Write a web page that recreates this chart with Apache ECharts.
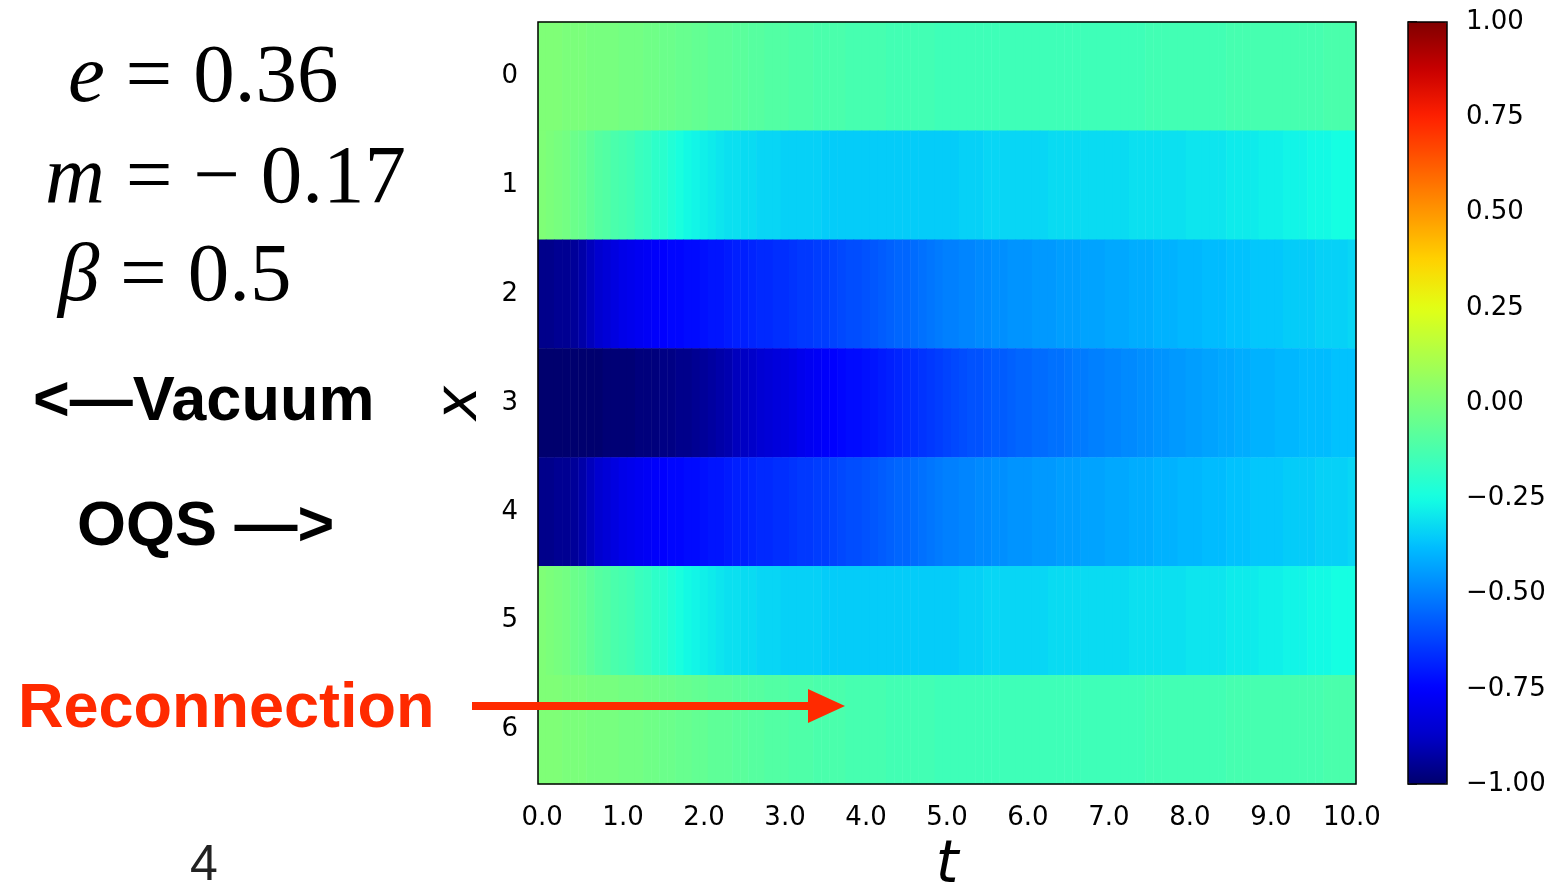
<!DOCTYPE html>
<html>
<head>
<meta charset="utf-8">
<script src="https://cdn.jsdelivr.net/npm/echarts@6/dist/echarts.min.js"></script>
<style>
  html, body { margin: 0; padding: 0; background: #fff; }
  #chart { width: 1567px; height: 887px; }
</style>
</head>
<body>
<div id="chart"></div>
<script>
// rows of the heatmap: lattice site x (top to bottom)
const xSites = ['0', '1', '2', '3', '4', '5', '6'];
// columns: t = 0.0 ... 10.0, step 0.1
const tSteps = Array.from({ length: 101 }, (_, i) => (i / 10).toFixed(1));
const colorbarTicks = [-1, -0.75, -0.5, -0.25, 0, 0.25, 0.5, 0.75, 1];

// values, one per t step (x=4..6 mirror x=2..0)
const row0 = [
  0.01, 0.01, 0.01, 0.00, 0.00, 0.00, -0.01, -0.01, -0.01, -0.01,
  -0.02, -0.02, -0.02, -0.03, -0.03, -0.04, -0.04, -0.05, -0.05, -0.06,
  -0.06, -0.07, -0.07, -0.07, -0.08, -0.08, -0.09, -0.09, -0.10, -0.10,
  -0.10, -0.11, -0.11, -0.11, -0.12, -0.12, -0.12, -0.12, -0.13, -0.13,
  -0.13, -0.13, -0.13, -0.14, -0.14, -0.14, -0.14, -0.14, -0.14, -0.15,
  -0.15, -0.15, -0.15, -0.15, -0.15, -0.15, -0.15, -0.15, -0.15, -0.15,
  -0.15, -0.15, -0.15, -0.15, -0.15, -0.15, -0.15, -0.15, -0.15, -0.15,
  -0.15, -0.15, -0.15, -0.15, -0.15, -0.14, -0.14, -0.14, -0.14, -0.14,
  -0.14, -0.14, -0.14, -0.14, -0.14, -0.13, -0.13, -0.13, -0.13, -0.13,
  -0.13, -0.13, -0.13, -0.13, -0.13, -0.13, -0.13, -0.12, -0.12, -0.12,
  -0.12
];
const row1 = [
  0.01, 0.00, -0.01, -0.02, -0.04, -0.05, -0.07, -0.09, -0.10, -0.12,
  -0.13, -0.14, -0.16, -0.17, -0.19, -0.20, -0.22, -0.24, -0.26, -0.27,
  -0.28, -0.29, -0.30, -0.31, -0.31, -0.32, -0.32, -0.33, -0.33, -0.33,
  -0.34, -0.34, -0.34, -0.34, -0.34, -0.35, -0.35, -0.35, -0.35, -0.35,
  -0.35, -0.35, -0.35, -0.35, -0.35, -0.35, -0.35, -0.35, -0.35, -0.35,
  -0.35, -0.35, -0.34, -0.34, -0.34, -0.33, -0.33, -0.33, -0.33, -0.33,
  -0.33, -0.33, -0.33, -0.32, -0.32, -0.32, -0.32, -0.32, -0.32, -0.32,
  -0.32, -0.32, -0.32, -0.31, -0.31, -0.31, -0.31, -0.31, -0.31, -0.31,
  -0.30, -0.30, -0.30, -0.30, -0.30, -0.29, -0.29, -0.29, -0.29, -0.28,
  -0.28, -0.28, -0.27, -0.27, -0.27, -0.26, -0.26, -0.26, -0.25, -0.25,
  -0.25
];
const row2 = [
  -0.96, -0.96, -0.95, -0.95, -0.94, -0.92, -0.89, -0.86, -0.84, -0.82,
  -0.80, -0.79, -0.78, -0.77, -0.76, -0.75, -0.74, -0.74, -0.73, -0.73,
  -0.72, -0.71, -0.71, -0.70, -0.69, -0.69, -0.68, -0.67, -0.67, -0.66,
  -0.66, -0.65, -0.64, -0.64, -0.63, -0.63, -0.62, -0.61, -0.60, -0.60,
  -0.59, -0.58, -0.57, -0.56, -0.55, -0.55, -0.54, -0.53, -0.52, -0.51,
  -0.50, -0.50, -0.49, -0.49, -0.48, -0.48, -0.47, -0.47, -0.46, -0.46,
  -0.46, -0.45, -0.45, -0.45, -0.44, -0.44, -0.44, -0.43, -0.43, -0.43,
  -0.42, -0.42, -0.42, -0.41, -0.41, -0.41, -0.40, -0.40, -0.40, -0.39,
  -0.39, -0.39, -0.38, -0.38, -0.38, -0.37, -0.37, -0.37, -0.36, -0.36,
  -0.36, -0.36, -0.35, -0.35, -0.35, -0.35, -0.34, -0.34, -0.34, -0.34,
  -0.33
];
const row3 = [
  -1.00, -1.00, -1.00, -1.00, -1.00, -1.00, -1.00, -1.00, -0.99, -0.99,
  -0.99, -0.99, -0.98, -0.98, -0.98, -0.97, -0.97, -0.96, -0.96, -0.95,
  -0.94, -0.93, -0.92, -0.91, -0.89, -0.88, -0.87, -0.85, -0.84, -0.83,
  -0.82, -0.81, -0.79, -0.78, -0.77, -0.76, -0.75, -0.74, -0.73, -0.73,
  -0.72, -0.71, -0.70, -0.69, -0.68, -0.67, -0.66, -0.65, -0.64, -0.63,
  -0.62, -0.61, -0.60, -0.59, -0.59, -0.58, -0.57, -0.57, -0.56, -0.55,
  -0.55, -0.54, -0.54, -0.53, -0.53, -0.52, -0.51, -0.51, -0.50, -0.50,
  -0.49, -0.49, -0.48, -0.48, -0.47, -0.47, -0.46, -0.46, -0.45, -0.45,
  -0.44, -0.44, -0.43, -0.43, -0.42, -0.42, -0.41, -0.41, -0.40, -0.40,
  -0.40, -0.39, -0.39, -0.39, -0.38, -0.38, -0.38, -0.38, -0.37, -0.37,
  -0.37
];
const rows = [row0, row1, row2, row3, row2, row1, row0];

// matplotlib 'jet', sampled at 17 even stops
const jet = [
  '#00006e', '#0000c8', '#0000ff', '#0040ff', '#0080ff', '#00bfff',
  '#15ffe2', '#48ffae', '#7bff7b', '#aeff48', '#e2ff15', '#ffd200',
  '#ff9700', '#ff5c00', '#ff2100', '#c80000', '#800000'
];

const heatData = [];
rows.forEach((vals, yi) => {
  vals.forEach((v, xi) => heatData.push([xi, yi, v]));
});

const tickFont = { fontFamily: 'DejaVu Sans', fontSize: 26, color: '#000' };
const everyTenth = (i) => i % 10 === 0;
const red = '#ff2a00';

const chart = echarts.init(document.getElementById('chart'));
chart.setOption({
  animation: false,
  grid: [
    { left: 538, top: 22, width: 818, height: 762, outerBoundsMode: 'none', show: true, borderColor: '#000', borderWidth: 1.5, z: 3 },
    { left: 1408, top: 22, width: 39, height: 762, outerBoundsMode: 'none', show: true, borderColor: '#000', borderWidth: 1.5, z: 6 }
  ],
  xAxis: [
    {
      type: 'category',
      gridIndex: 0,
      data: tSteps,
      axisLine: { show: false },
      axisTick: { alignWithLabel: true, interval: everyTenth, length: 8, lineStyle: { color: '#000', width: 1.5 } },
      axisLabel: Object.assign({ interval: everyTenth, margin: 21 }, tickFont),
      splitLine: { show: false },
      name: 't',
      nameLocation: 'middle',
      nameGap: 54,
      nameTextStyle: { fontFamily: 'DejaVu Sans', fontStyle: 'italic', fontSize: 58, color: '#000' }
    },
    { type: 'value', gridIndex: 1, show: false, min: 0, max: 1 }
  ],
  yAxis: [
    {
      type: 'category',
      gridIndex: 0,
      data: xSites,
      inverse: true,
      axisLine: { show: false },
      axisTick: { alignWithLabel: true, length: 8, lineStyle: { color: '#000', width: 1.5 } },
      axisLabel: Object.assign({ margin: 20, padding: [7, 0, 0, 0] }, tickFont),
      splitLine: { show: false },
      name: 'x',
      nameLocation: 'middle',
      nameRotate: 90,
      nameGap: 48,
      nameTextStyle: { fontFamily: 'DejaVu Sans', fontStyle: 'italic', fontSize: 58, color: '#000' }
    },
    {
      type: 'value',
      gridIndex: 1,
      position: 'right',
      min: -1,
      max: 1,
      interval: 0.25,
      axisLine: { show: false },
      axisTick: { show: true, length: 9, lineStyle: { color: '#000', width: 1.5 } },
      axisLabel: Object.assign({
        margin: 19,
        padding: [6, 0, 0, 0],
        formatter: (v) => (v < 0 ? '\u2212' : '') + Math.abs(v).toFixed(2)
      }, tickFont),
      splitLine: { show: false }
    }
  ],
  visualMap: {
    type: 'continuous',
    min: colorbarTicks[0],
    max: colorbarTicks[colorbarTicks.length - 1],
    dimension: 2,
    seriesIndex: 0,
    calculable: false,
    hoverLink: false,
    left: 1408,
    top: 22,
    itemWidth: 39,
    itemHeight: 762,
    padding: 0,
    text: null,
    inRange: { color: jet }
  },
  series: [{
    type: 'heatmap',
    xAxisIndex: 0,
    yAxisIndex: 0,
    data: heatData,
    itemStyle: { borderWidth: 0 },
    emphasis: { disabled: true },
    progressive: 0
  }],
  graphic: [
    {
      type: 'text', x: 68, y: 79,
      style: {
        text: '{i|e} = 0.36', fontFamily: 'Liberation Serif', fontSize: 83, fill: '#000', verticalAlign: 'middle',
        rich: { i: { fontFamily: 'Liberation Serif', fontStyle: 'italic', fontSize: 83 } }
      }
    },
    {
      type: 'text', x: 45, y: 180,
      style: {
        text: '{i|m} = \u2212 0.17', fontFamily: 'Liberation Serif', fontSize: 83, fill: '#000', verticalAlign: 'middle',
        rich: { i: { fontFamily: 'Liberation Serif', fontStyle: 'italic', fontSize: 83 } }
      }
    },
    {
      type: 'text', x: 58, y: 278,
      style: {
        text: '{i|\u03b2} = 0.5', fontFamily: 'Liberation Serif', fontSize: 83, fill: '#000', verticalAlign: 'middle',
        rich: { i: { fontFamily: 'Liberation Serif', fontStyle: 'italic', fontSize: 83 } }
      }
    },
    {
      type: 'text', x: 33, y: 403,
      style: { text: '<\u2014Vacuum', fontFamily: 'Liberation Sans', fontWeight: 'bold', fontSize: 63, fill: '#000', verticalAlign: 'middle' }
    },
    {
      type: 'text', x: 77, y: 528,
      style: { text: 'OQS \u2014>', fontFamily: 'Liberation Sans', fontWeight: 'bold', fontSize: 63, fill: '#000', verticalAlign: 'middle' }
    },
    {
      type: 'text', x: 18, y: 710,
      style: { text: 'Reconnection', fontFamily: 'Liberation Sans', fontWeight: 'bold', fontSize: 63, fill: red, verticalAlign: 'middle' }
    },
    {
      type: 'line', z: 10,
      shape: { x1: 472, y1: 706, x2: 812, y2: 706 },
      style: { stroke: red, lineWidth: 8 }
    },
    {
      type: 'polygon', z: 10,
      shape: { points: [[808, 689], [845, 706], [808, 723]] },
      style: { fill: red }
    },
    {
      type: 'text', x: 190, y: 866,
      style: { text: '4', fontFamily: 'Liberation Sans', fontSize: 50, fill: '#222', verticalAlign: 'middle' }
    }
  ]
});
</script>
</body>
</html>
